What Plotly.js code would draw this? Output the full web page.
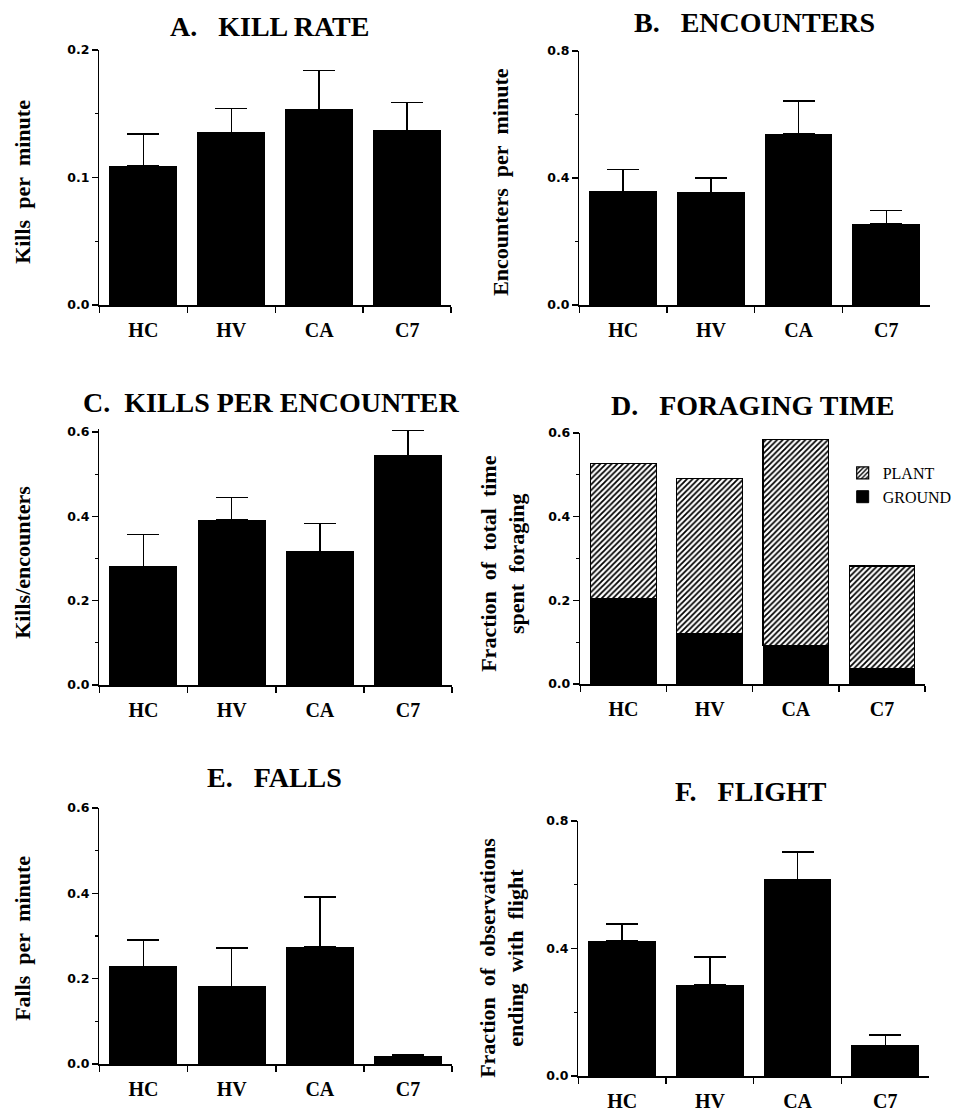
<!DOCTYPE html>
<html>
<head>
<meta charset="utf-8">
<script src="https://cdn.plot.ly/plotly-3.0.1.min.js"></script>
<style>html,body{margin:0;padding:0;background:#fff;}#chart{width:957px;height:1114px;}</style>
</head>
<body>
<div id="chart"></div>
<script>
// ---- data ----
const categories = ["HC", "HV", "CA", "C7"];

const killRate = [0.109, 0.135, 0.153, 0.137];
const killRateSE = [0.025, 0.019, 0.031, 0.022];

const encounters = [0.357, 0.354, 0.538, 0.255];
const encountersSE = [0.069, 0.046, 0.105, 0.042];

const killsPerEncounter = [0.280, 0.391, 0.317, 0.544];
const killsPerEncounterSE = [0.077, 0.054, 0.066, 0.059];

const foragingGround = [0.205, 0.121, 0.092, 0.037];
const foragingPlant = [0.322, 0.371, 0.492, 0.245];

const falls = [0.229, 0.182, 0.274, 0.017];
const fallsSE = [0.062, 0.090, 0.118, 0.004];

const flight = [0.423, 0.285, 0.616, 0.095];
const flightSE = [0.054, 0.089, 0.087, 0.033];

const NB = "\u00A0";
const panelTitles = ["A." + NB + NB + " KILL RATE", "B." + NB + NB + " ENCOUNTERS", "C." + NB + " KILLS PER ENCOUNTER",
                     "D." + NB + NB + " FORAGING TIME", "E." + NB + NB + " FALLS", "F." + NB + NB + " FLIGHT"];
const yTitles = ["Kills" + NB + " per" + NB + " minute", "Encounters" + NB + " per" + NB + " minute", "Kills/encounters",
                 "Fraction" + NB + " of" + NB + " total" + NB + " time<br>spent" + NB + " foraging", "Falls" + NB + " per" + NB + " minute",
                 "Fraction" + NB + " of" + NB + " observations<br>ending" + NB + " with" + NB + " flight"];
const legendNames = ["GROUND", "PLANT"];

// ---- layout geometry (pixels) ----
const W = 957, H = 1114;
const SERIF = "Liberation Serif, Times New Roman, serif";
const SANS = "DejaVu Sans, Arial, sans-serif";
// y0 = pixel of the top major tick (value ymax); pad = extra headroom (data units) above it
const boxes = [
  {x0:100, x1:454, y0:50,  y1:305, ymax:0.2, dt:0.1, mt:0.05, pad:0},
  {x0:583, x1:936, y0:51,  y1:305, ymax:0.8, dt:0.4, mt:0.2, pad:0},
  {x0:100, x1:455, y0:432, y1:685, ymax:0.6, dt:0.2, mt:0.1, pad:0.008},
  {x0:584, x1:931, y0:433, y1:684, ymax:0.6, dt:0.2, mt:0.1, pad:0},
  {x0:100, x1:455, y0:808, y1:1064, ymax:0.6, dt:0.2, mt:0.1, pad:0},
  {x0:582, x1:935, y0:821, y1:1076, ymax:0.8, dt:0.4, mt:0.2, pad:0}
];
const titlePos = [[271,26],[759,22],[273,402],[757,405],[276,777],[756,791]];
const yTitlePos = [[22,182],[503,182],[22,562],[506,564],[22,938],[505,958]];

function errBar(se){
  return {type:'data', symmetric:false, array:se, arrayminus:se.map(()=>0),
          color:'#000', thickness:1.5, width:16, visible:true};
}
function blackBar(i, y, se){
  const sfx = i===0 ? '' : String(i+1);
  return {type:'bar', x:categories, y:y, xaxis:'x'+sfx, yaxis:'y'+sfx,
          marker:{color:'#000', line:{color:'#000', width:1}},
          error_y:errBar(se), showlegend:false, hoverinfo:'skip'};
}

const traces = [
  blackBar(0, killRate, killRateSE),
  blackBar(1, encounters, encountersSE),
  blackBar(2, killsPerEncounter, killsPerEncounterSE),
  {type:'bar', x:categories, y:foragingGround, xaxis:'x4', yaxis:'y4', name:legendNames[0],
   legendrank:2, marker:{color:'#000', line:{color:'#000', width:1}}, hoverinfo:'skip'},
  {type:'bar', x:categories, y:foragingPlant, xaxis:'x4', yaxis:'y4', name:legendNames[1],
   legendrank:1, marker:{color:'#fff', line:{color:'#000', width:1.2},
   pattern:{shape:'/', fgcolor:'#000', bgcolor:'#fff', size:4, solidity:0.45, fillmode:'replace'}}, hoverinfo:'skip'},
  blackBar(4, falls, fallsSE),
  blackBar(5, flight, flightSE)
];

const layout = {
  width:W, height:H, margin:{l:0, r:0, t:0, b:0},
  paper_bgcolor:'#fff', plot_bgcolor:'rgba(0,0,0,0)',
  barmode:'stack', bargap:0.24,
  showlegend:true,
  legend:{x:848/W, y:1-456/H, xanchor:'left', yanchor:'top', bgcolor:'rgba(0,0,0,0)',
          traceorder:'normal', tracegroupgap:0, itemwidth:30,
          font:{family:SERIF, size:16, color:'#000'}},
  annotations:[]
};

boxes.forEach((b, i) => {
  const sfx = i===0 ? '' : String(i+1);
  const top = b.ymax + b.pad;
  const yTopPx = b.y0 - b.pad / b.ymax * (b.y1 - b.y0);
  layout['xaxis'+sfx] = {
    domain:[b.x0/W, b.x1/W], anchor:'y'+sfx, type:'category', range:[-0.5, 3.5],
    showline:true, linecolor:'#000', linewidth:1.5, showgrid:false, zeroline:false,
    ticks:'outside', tickson:'boundaries', ticklen:6, tickwidth:1.5, tickcolor:'#000',
    ticklabelstandoff:6,
    tickfont:{family:SERIF, size:20, color:'#000', weight:'bold'}, fixedrange:true
  };
  layout['yaxis'+sfx] = {
    domain:[1-b.y1/H, 1-yTopPx/H], anchor:'x'+sfx, range:[0, top],
    showline:true, linecolor:'#000', linewidth:1.5, showgrid:false, zeroline:false,
    ticks:'outside', ticklen:6, tickwidth:1.5, tickcolor:'#000',
    tick0:0, dtick:b.dt, tickformat:'.1f',
    minor:{ticks:'outside', dtick:b.mt, tick0:0, ticklen:3, tickwidth:1.2, tickcolor:'#000', showgrid:false},
    tickfont:{family:SANS, size:12.5, color:'#000', weight:'bold'}, fixedrange:true
  };
  layout.annotations.push({
    text:panelTitles[i], xref:'paper', yref:'paper',
    x:titlePos[i][0]/W, y:1-titlePos[i][1]/H, xanchor:'center', yanchor:'middle',
    showarrow:false, font:{family:SERIF, size:28, color:'#000', weight:'bold'}
  });
  layout.annotations.push({
    text:yTitles[i], xref:'paper', yref:'paper', textangle:-90,
    x:yTitlePos[i][0]/W, y:1-yTitlePos[i][1]/H, xanchor:'center', yanchor:'middle',
    showarrow:false, font:{family:SERIF, size:22, color:'#000', weight:'bold'}
  });
});

Plotly.newPlot('chart', traces, layout, {staticPlot:true, displayModeBar:false});
</script>
</body>
</html>
